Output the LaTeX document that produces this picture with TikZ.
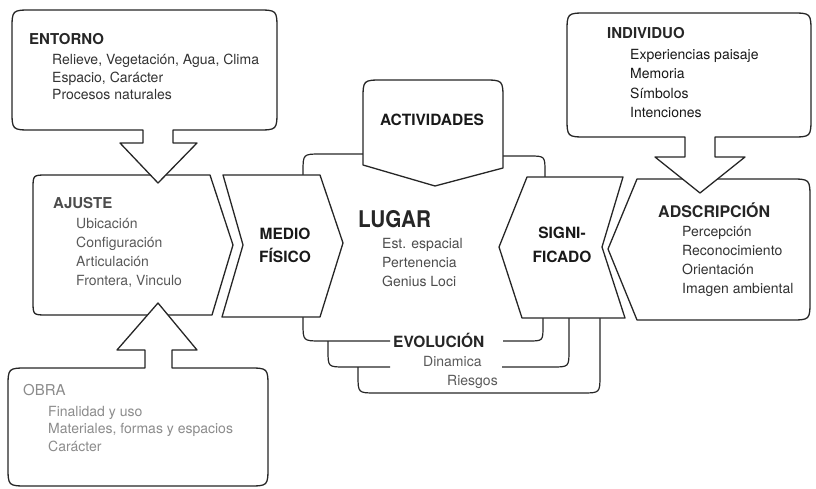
\documentclass[tikz,border=0pt]{standalone}
\usepackage{fontspec}
\setmainfont{TeX Gyre Heros}
\begin{document}
\begin{tikzpicture}[x=1pt,y=-1pt,line join=round,
  outline/.style={draw=black!85,line width=1.3pt,fill=white},
  edge/.style={draw=black!85,line width=1.2pt},
  head/.style={font=\fontsize{15}{18}\selectfont\bfseries,anchor=base west,inner sep=0pt,text=black!85},
  item/.style={font=\fontsize{14}{16}\selectfont,anchor=base west,inner sep=0pt,text=black!80},
  tag/.style={font=\fontsize{15.5}{18}\selectfont\bfseries,anchor=base,inner sep=0pt,text=black!90},
  faint/.style={text=black!45}]
\useasboundingbox (0,0) rectangle (816,489);

% --- stacked "LUGAR" cards (Evolución) ---
\path[edge] (358,367) -- (358,375) .. controls (358,393) .. (376,393) -- (582,393) .. controls (600,393) .. (600,375) -- (600,318);
\path[edge] (328,341) -- (328,350) .. controls (328,367) .. (345,367) -- (390,367);
\path[edge] (502,367) -- (552,367) .. controls (569,367) .. (569,350) -- (569,318);
\path[edge] (303,317) -- (303,323) .. controls (303,341) .. (321,341) -- (390,341);
\path[edge] (503,341) -- (528,341) .. controls (543,341) .. (543,326) -- (543,318);
\path[edge] (303,175) -- (303,172) .. controls (303,154) .. (321,154) -- (363,154);
\path[edge] (503,156) -- (529,156) .. controls (545,156) .. (545,172) -- (545,177);

% --- AJUSTE ---
\path[outline] (210,175) -- (233,245) -- (212,315) -- (47,315) .. controls (33,315) .. (33,301)
  -- (33,189) .. controls (33,175) .. (47,175) -- cycle;

% --- ENTORNO with its arrow ---
\path[outline] (143,130) -- (32,130) .. controls (12,130) .. (12,110) -- (12,30) .. controls (12,10) .. (32,10)
  -- (257,10) .. controls (277,10) .. (277,30) -- (277,110) .. controls (277,130) .. (257,130)
  -- (173,130) -- (173,143) -- (197,143) -- (158,183) -- (120,143) -- (143,143) -- cycle;

% --- OBRA with its arrow ---
\path[outline] (145,368) -- (145,350) -- (117,350) -- (158,303) -- (197,350) -- (172,350) -- (172,368)
  -- (248,368) .. controls (268,368) .. (268,388) -- (268,466) .. controls (268,486) .. (248,486)
  -- (28,486) .. controls (8,486) .. (8,466) -- (8,388) .. controls (8,368) .. (28,368) -- cycle;

% --- MEDIO FISICO ---
\path[outline] (223,175) -- (320,175) -- (343,243) -- (320,317) -- (222,317) -- (243,245) -- cycle;

% --- ACTIVIDADES ---
\path[outline] (363,165) -- (363,100) .. controls (363,80) .. (383,80) -- (483,80) .. controls (503,80) .. (503,100)
  -- (503,168) -- (435,186) -- cycle;

% --- SIGNIFICADO ---
\path[outline] (527,177) -- (623,177) -- (602,247) -- (625,318) -- (522,318) -- (499,247) -- cycle;

% --- ADSCRIPCION ---
\path[outline] (637,179) -- (790,179) .. controls (810,179) .. (810,199) -- (810,300) .. controls (810,320) .. (790,320)
  -- (637,320) -- (608,249) -- cycle;

% --- INDIVIDUO with its arrow ---
\path[outline] (685,137) -- (587,137) .. controls (567,137) .. (567,117) -- (567,33) .. controls (567,13) .. (587,13)
  -- (791,13) .. controls (811,13) .. (811,33) -- (811,117) .. controls (811,137) .. (791,137)
  -- (715,137) -- (715,157) -- (745,157) -- (700,193) -- (655,157) -- (685,157) -- cycle;

% --- texts ---
\node[head] (entH) at (29,45) {ENTORNO};
\foreach \t [count=\i] in {{Relieve, Vegetación, Agua, Clima},{Espacio, Carácter},{Procesos naturales}}
  \node[item] (ent\i) at (52,47.5+17.5*\i) {\t};

\node[head,text=black!70] (ajuH) at (53,208) {AJUSTE};
\foreach \t [count=\i] in {Ubicación,Configuración,Articulación,{Frontera, Vinculo}}
  \node[item,text=black!65] (aju\i) at (76,209+19*\i) {\t};

\node[head,faint,font=\fontsize{15}{18}\selectfont] (obrH) at (23,395) {OBRA};
\foreach \t [count=\i] in {{Finalidad y uso},{Materiales, formas y espacios},{Carácter}}
  \node[item,faint] (obr\i) at (48,398.5+17.5*\i) {\t};

\node[head] (indH) at (607,39) {INDIVIDUO};
\foreach \t [count=\i] in {{Experiencias paisaje},Memoria,Símbolos,Intenciones}
  \node[item,text=black!90] (ind\i) at (630,40.5+19.2*\i) {\t};

\node[head,font=\fontsize{16}{19}\selectfont\bfseries] (adsH) at (658,218) {ADSCRIPCIÓN};
\foreach \t [count=\i] in {Percepción,Reconocimiento,Orientación,{Imagen ambiental}}
  \node[item] (ads\i) at (682,217+19*\i) {\t};

\node[head,font=\fontsize{23}{26}\selectfont\bfseries] (lugH) at (358,227) {\scalebox{0.9}[1]{LUGAR}};
\foreach \t [count=\i] in {{Est. espacial},Pertenencia,{Genius Loci}}
  \node[item,text=black!70] (lug\i) at (382,229+19*\i) {\t};

\node[tag] (act) at (432,126) {ACTIVIDADES};
\node[tag] (med1) at (285,239) {MEDIO};
\node[tag] (med2) at (285,262) {FÍSICO};
\node[tag] (sig1) at (562,238) {SIGNI-};
\node[tag] (sig2) at (562,262) {FICADO};

\node[head,font=\fontsize{15.5}{18}\selectfont\bfseries] (evo) at (393,347) {EVOLUCIÓN};
\node[item,text=black!65] (evo1) at (423,366) {Dinamica};
\node[item,text=black!65] (evo2) at (447,385) {Riesgos};
\end{tikzpicture}
\end{document}
